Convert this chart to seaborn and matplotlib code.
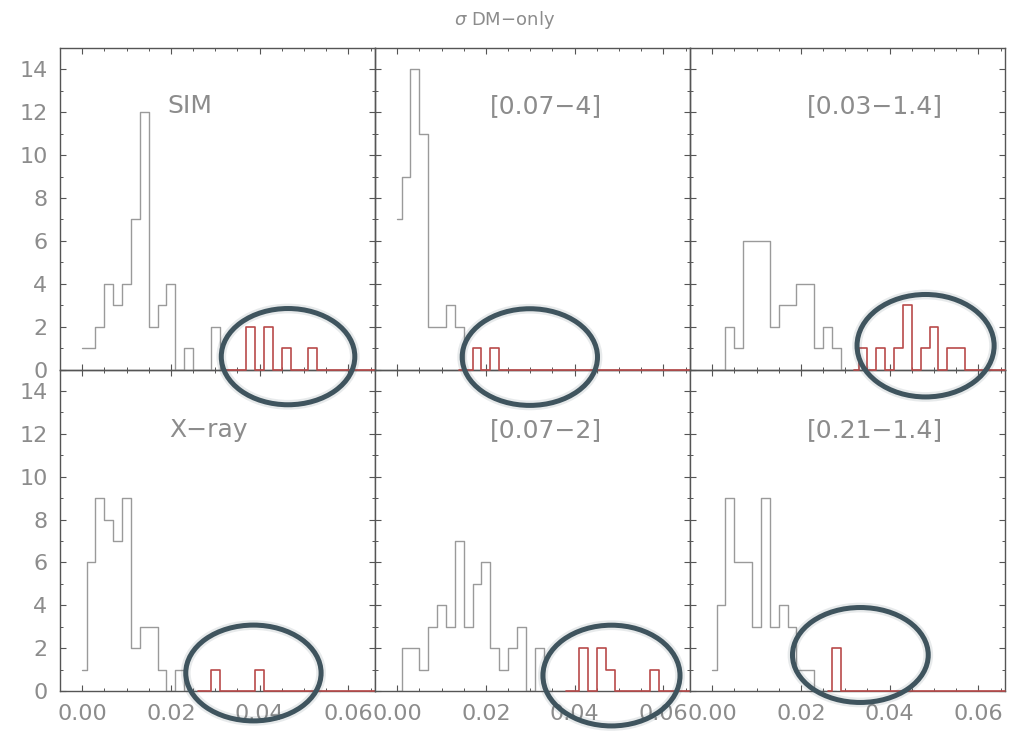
import numpy as np
import pandas as pd
import seaborn as sns
import matplotlib
matplotlib.use("Agg")
import matplotlib.pyplot as plt
from matplotlib.patches import Ellipse
from matplotlib.ticker import MultipleLocator, FormatStrFormatter

# ---- data -----------------------------------------------------------------
# histogram bins of sigma, width 0.002, centred on 0.000, 0.002, ...
bin_centers = np.round(np.arange(0.0, 0.0665, 0.002), 3)

panel_labels = ["SIM", "[0.07\u22124]", "[0.03\u22121.4]",
                "X\u2212ray", "[0.07\u22122]", "[0.21\u22121.4]"]

counts_sim = [1, 1, 2, 4, 3, 4, 7, 12, 2, 3, 4, 0, 1, 0, 0, 2, 0,
              0, 0, 2, 0, 2, 0, 1, 0, 0, 1]
counts_007_4 = [7, 9, 14, 11, 2, 2, 3, 2, 0, 1, 0, 1]
counts_003_14 = [0, 0, 2, 1, 6, 6, 6, 2, 3, 3, 4, 4, 1, 2, 1, 0, 0,
                 1, 0, 1, 0, 1, 3, 0, 1, 2, 0, 1, 1]
counts_xray = [1, 6, 9, 8, 7, 9, 2, 3, 3, 1, 0, 1, 0, 0,
               0, 1, 0, 0, 0, 0, 1]
counts_007_2 = [0, 2, 2, 1, 3, 4, 3, 7, 3, 5, 6, 2, 1, 2, 3, 0, 2, 0, 0, 0,
                0, 2, 0, 2, 1, 0, 0, 0, 0, 1]
counts_021_14 = [1, 4, 9, 6, 6, 3, 9, 3, 4, 3, 1, 1, 0, 0,
                 2]

# index of the first bin counted in the high-sigma tail (drawn in red)
tail_start = [17, 8, 17, 14, 20, 14]

# highlighted tail region per panel: centre x, centre y, width, height
ring_x = [0.0464, 0.0299, 0.0481, 0.0386, 0.0483, 0.0334]
ring_y = [0.60, 0.58, 1.11, 0.84, 0.72, 1.68]
ring_w = [0.0301, 0.0305, 0.0309, 0.0305, 0.0309, 0.0306]
ring_h = [4.49, 4.51, 4.78, 4.47, 4.70, 4.43]

all_counts = [counts_sim, counts_007_4, counts_003_14,
              counts_xray, counts_007_2, counts_021_14]

# ---- style ----------------------------------------------------------------
sns.set_theme(style="ticks")
plt.rcParams["font.family"] = ["DejaVu Sans"]
plt.rcParams["mathtext.fontset"] = "dejavusans"

GRAY = "#9a9a9a"
RED = "#b94a4a"
TEXT = "#8c8c8c"
FRAME = "#555555"
RING = "#3f545e"

fig, axes = plt.subplots(2, 3, figsize=(10.15, 7.37), dpi=100,
                         sharex=True, sharey=True)
fig.subplots_adjust(left=60 / 1015, right=1005 / 1015,
                    top=1 - 48 / 737, bottom=1 - 691 / 737,
                    wspace=0, hspace=0)

for i, ax in enumerate(axes.flat):
    n = len(bin_centers)
    counts = np.zeros(n)
    counts[:len(all_counts[i])] = all_counts[i]
    cut = tail_start[i]

    core = pd.DataFrame({"sigma": bin_centers[:cut + 1],
                         "n": np.append(counts[:cut], 0)})
    tail = pd.DataFrame({"sigma": bin_centers[cut - 1:],
                         "n": np.append(0, counts[cut:])})

    sns.lineplot(data=core, x="sigma", y="n", ax=ax, color=GRAY,
                 linewidth=1.0, drawstyle="steps-mid", sort=False,
                 errorbar=None)
    sns.lineplot(data=tail, x="sigma", y="n", ax=ax, color=RED,
                 linewidth=1.2, drawstyle="steps-mid", sort=False,
                 errorbar=None, clip_on=False, zorder=3)

    ax.set_xlim(-0.005, 0.066)
    ax.set_ylim(0, 15)
    ax.set_xlabel("")
    ax.set_ylabel("")
    ax.xaxis.set_major_locator(MultipleLocator(0.02))
    ax.xaxis.set_minor_locator(MultipleLocator(0.005))
    ax.yaxis.set_major_locator(MultipleLocator(2))
    ax.yaxis.set_minor_locator(MultipleLocator(1))
    ax.xaxis.set_major_formatter(FormatStrFormatter("%.2f"))
    ax.yaxis.set_major_formatter(FormatStrFormatter("%d"))
    ax.tick_params(which="both", direction="in", top=True, right=True,
                   color=FRAME, labelcolor=TEXT, labelsize=16)
    ax.tick_params(which="major", length=4, width=0.8)
    ax.tick_params(which="minor", length=2.5, width=0.7)
    ax.tick_params(axis="x", pad=9)
    ax.tick_params(axis="y", pad=9)
    for sp in ax.spines.values():
        sp.set_color(FRAME)
        sp.set_linewidth(1.0)

    row = i // 3
    col = i % 3
    if row == 0:
        # upper panels sit above the lower ones so their red zero line
        # stays visible on the shared border
        ax.set_zorder(2)
        ax.patch.set_visible(False)

    tx = [[0.413, 0.544, 0.588], [0.47, 0.544, 0.588]][row][col]
    ty = [0.798, 0.791][row]
    ax.text(tx, ty, panel_labels[i], transform=ax.transAxes,
            ha="center", va="baseline", fontsize=18, color=TEXT)

    # soft halo then the ring itself
    halo = Ellipse((ring_x[i], ring_y[i]), ring_w[i], ring_h[i],
                   transform=ax.transData, fill=False, edgecolor=RING,
                   linewidth=7.0, alpha=0.12, clip_on=False, zorder=5)
    ring = Ellipse((ring_x[i], ring_y[i]), ring_w[i], ring_h[i],
                   transform=ax.transData, fill=False, edgecolor=RING,
                   linewidth=3.6, clip_on=False, zorder=6)
    fig.add_artist(halo)
    fig.add_artist(ring)

fig.text(0.497, 1 - 20 / 737, "$\\sigma$ DM\u2212only", ha="center",
         va="center", fontsize=13, color=TEXT)

fig.savefig("out.png", dpi=100, facecolor="white")
